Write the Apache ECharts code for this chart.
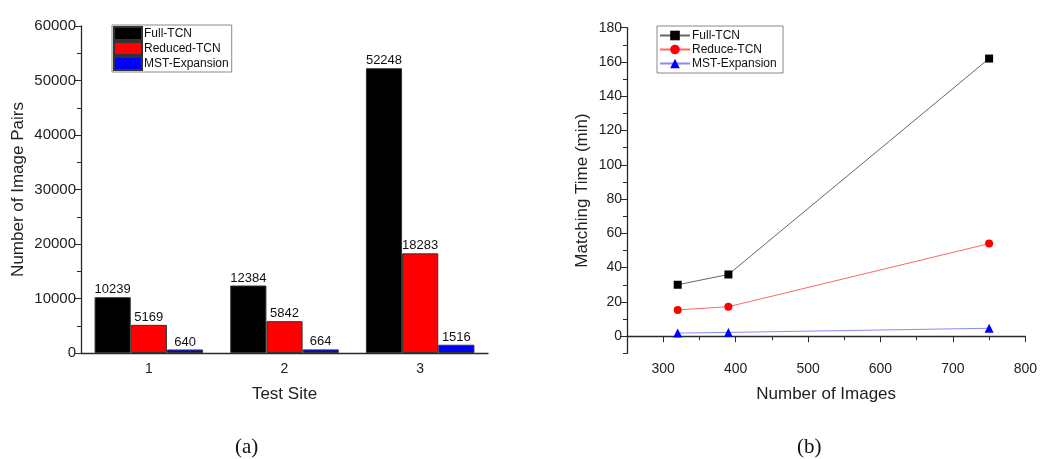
<!DOCTYPE html>
<html>
<head>
<meta charset="utf-8">
<script src="https://cdn.jsdelivr.net/npm/echarts@6/dist/echarts.min.js"></script>
<style>
html,body{margin:0;padding:0;background:#fff;}
#c{width:1040px;height:459px;}
</style>
</head>
<body>
<div id="c"></div>
<script>
// ---- Data: chart (a) ----
const siteCategories = ['1', '2', '3'];
const pairsFullTCN = [10239, 12384, 52248];
const pairsReducedTCN = [5169, 5842, 18283];
const pairsMSTExpansion = [640, 664, 1516];

// ---- Data: chart (b) ----
const imageCounts = [320, 390, 750];
const timeFullTCN = [30, 36, 162];
const timeReduceTCN = [15.3, 17.2, 54];
const timeMSTExpansion = [1.8, 2.2, 4.6];

// ---- Tick labels (b) ----
const bYMajorTicks = [0, 20, 40, 60, 80, 100, 120, 140, 160, 180];
const bYMinorTicks = [-10, 10, 30, 50, 70, 90, 110, 130, 150, 170];
const bXMajorTicks = [300, 400, 500, 600, 700, 800];
const bXMinorTicks = [250, 350, 450, 550, 650, 750];

const FONT = '"Liberation Sans", Arial, sans-serif';
const AX = '#2a2a2a';
const tickLabel = {color: '#222', fontSize: 14, fontFamily: FONT};
const nameStyle = {color: '#222', fontSize: 17, fontFamily: FONT};

const chart = echarts.init(document.getElementById('c'), null, {renderer: 'canvas'});

const barLabel = {show: true, position: 'top', distance: 1, color: '#111', fontSize: 13, fontFamily: FONT};

chart.setOption({
  animation: false,
  backgroundColor: '#fff',
  title: [
    {text: '(a)', left: 230, top: 432, textStyle: {fontFamily: '"Liberation Serif", "DejaVu Serif", serif', fontSize: 21, fontWeight: 'normal', color: '#111'}},
    {text: '(b)', left: 792, top: 432, textStyle: {fontFamily: '"Liberation Serif", "DejaVu Serif", serif', fontSize: 21, fontWeight: 'normal', color: '#111'}}
  ],
  legend: [
    {
      data: ['Full-TCN', 'Reduced-TCN', 'MST-Expansion'],
      orient: 'vertical', left: 112, top: 25,
      itemWidth: 28, itemHeight: 13, itemGap: 0,
      padding: [1, 3, 1, 1],
      borderColor: '#888', borderWidth: 1,
      textStyle: {fontSize: 12, lineHeight: 13, fontFamily: FONT, color: '#111', padding: [0, 0, 0, -3]},
      icon: 'rect'
    },
    {
      data: ['Full-TCN ', 'Reduce-TCN', 'MST-Expansion '],
      orient: 'vertical', left: 657, top: 26,
      itemWidth: 30, itemHeight: 12, itemGap: 1,
      padding: [3, 3, 3, 2],
      borderColor: '#888', borderWidth: 1,
      textStyle: {fontSize: 12, lineHeight: 13, fontFamily: FONT, color: '#111', padding: [0, 0, 0, -3]}
    }
  ],
  grid: [
    {left: 81, top: 26, width: 407, height: 327, containLabel: false},
    {left: 627, top: 27.7, width: 403, height: 325.6, containLabel: false}
  ],
  xAxis: [
    {
      type: 'category', gridIndex: 0, data: siteCategories,
      name: 'Test Site', nameLocation: 'middle', nameGap: 33, nameTextStyle: nameStyle,
      axisLine: {lineStyle: {color: AX, width: 1.3}},
      axisTick: {alignWithLabel: true, length: 5, lineStyle: {color: AX}},
      axisLabel: Object.assign({margin: 9}, tickLabel)
    },
    {
      type: 'category', gridIndex: 0, data: siteCategories, position: 'bottom',
      axisLine: {show: false},
      axisTick: {length: 3, lineStyle: {color: AX}},
      axisLabel: {show: false}
    },
    {
      type: 'value', gridIndex: 1, min: 250, max: 800,
      name: 'Number of Images', nameLocation: 'middle', nameGap: 33, nameTextStyle: nameStyle,
      axisLine: {lineStyle: {color: AX, width: 1.3}},
      axisTick: {length: 6, lineStyle: {color: AX}, customValues: bXMajorTicks},
      axisLabel: Object.assign({margin: 9, customValues: bXMajorTicks}, tickLabel),
      splitLine: {show: false}
    },
    {
      type: 'value', gridIndex: 1, min: 250, max: 800, position: 'bottom',
      axisLine: {show: false},
      axisTick: {length: 4, lineStyle: {color: AX}, customValues: bXMinorTicks},
      axisLabel: {show: false},
      splitLine: {show: false}
    }
  ],
  yAxis: [
    {
      type: 'value', gridIndex: 0, min: 0, max: 60000, interval: 10000,
      name: 'Number of Image Pairs', nameLocation: 'middle', nameGap: 54, nameTextStyle: nameStyle,
      axisLine: {show: true, lineStyle: {color: AX, width: 1.3}},
      axisTick: {show: true, length: 7, lineStyle: {color: AX}},
      minorTick: {show: true, splitNumber: 2, length: 4, lineStyle: {color: AX}},
      axisLabel: Object.assign({margin: 5, formatter: v => String(v)}, tickLabel, {fontSize: 15}),
      splitLine: {show: false}
    },
    {
      type: 'value', gridIndex: 1, min: -10, max: 180,
      name: 'Matching Time (min)', nameLocation: 'middle', nameGap: 36, nameTextStyle: nameStyle,
      axisLine: {show: true, lineStyle: {color: AX, width: 1.3}},
      axisTick: {show: true, length: 7, lineStyle: {color: AX}, customValues: bYMajorTicks},
      axisLabel: Object.assign({margin: 5, customValues: bYMajorTicks}, tickLabel),
      splitLine: {show: false}
    },
    {
      type: 'value', gridIndex: 1, min: -10, max: 180, position: 'left',
      axisLine: {show: false},
      axisTick: {show: true, length: 4, lineStyle: {color: AX}, customValues: bYMinorTicks},
      axisLabel: {show: false},
      splitLine: {show: false}
    }
  ],
  series: [
    {
      name: 'Full-TCN', type: 'bar', xAxisIndex: 0, yAxisIndex: 0,
      data: pairsFullTCN, barGap: '0%', barCategoryGap: '20%',
      itemStyle: {color: '#000', borderColor: '#333', borderWidth: 1},
      label: barLabel
    },
    {
      name: 'Reduced-TCN', type: 'bar', xAxisIndex: 0, yAxisIndex: 0,
      data: pairsReducedTCN, barGap: '0%', barCategoryGap: '20%',
      itemStyle: {color: '#ff0000', borderColor: '#333', borderWidth: 1},
      label: barLabel
    },
    {
      name: 'MST-Expansion', type: 'bar', xAxisIndex: 0, yAxisIndex: 0,
      data: pairsMSTExpansion, barGap: '0%', barCategoryGap: '20%',
      itemStyle: {color: '#0000ff', borderColor: '#333', borderWidth: 1},
      label: barLabel
    },
    {
      name: 'Full-TCN ', type: 'line', xAxisIndex: 2, yAxisIndex: 1,
      data: imageCounts.map((x, i) => [x, timeFullTCN[i]]),
      symbol: 'rect', symbolSize: 8,
      itemStyle: {color: '#000'},
      lineStyle: {color: '#666', width: 1}
    },
    {
      name: 'Reduce-TCN', type: 'line', xAxisIndex: 2, yAxisIndex: 1,
      data: imageCounts.map((x, i) => [x, timeReduceTCN[i]]),
      symbol: 'circle', symbolSize: 8,
      itemStyle: {color: '#ff0000'},
      lineStyle: {color: '#ff6666', width: 1}
    },
    {
      name: 'MST-Expansion ', type: 'line', xAxisIndex: 2, yAxisIndex: 1,
      data: imageCounts.map((x, i) => [x, timeMSTExpansion[i]]),
      symbol: 'triangle', symbolSize: 9,
      itemStyle: {color: '#0000ff'},
      lineStyle: {color: '#8888ff', width: 1}
    }
  ]
});
</script>
</body>
</html>
